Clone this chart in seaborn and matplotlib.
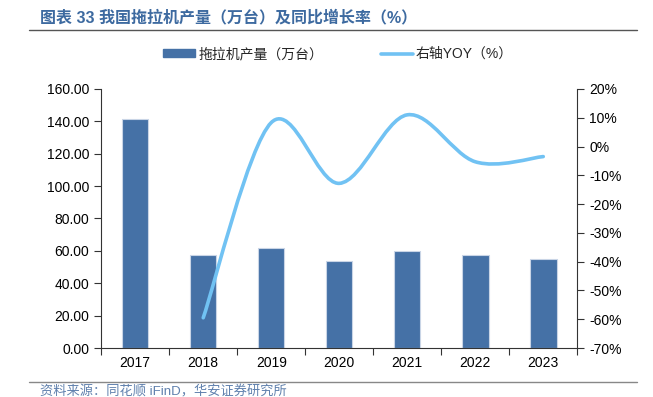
import numpy as np
import pandas as pd
import seaborn as sns
import matplotlib.pyplot as plt
from matplotlib.path import Path
from matplotlib.patches import PathPatch, Rectangle
from matplotlib.lines import Line2D
from matplotlib.ticker import FuncFormatter, MultipleLocator

years = ['2017', '2018', '2019', '2020', '2021', '2022', '2023']
output = [141.3, 57.4, 62.0, 53.9, 59.9, 57.2, 55.0]
yoy = [np.nan, -59.5, 8.3, -12.8, 11.0, -5.3, -3.5]

title = '图表 33 我国拖拉机产量（万台）及同比增长率（%）'
bar_label = '拖拉机产量（万台）'
line_label = '右轴YOY（%）'
source = '资料来源：同花顺 iFinD，华安证券研究所'

bar_color = '#4571a6'
line_color = '#71c2f3'
title_color = '#3d6aa0'

sns.set_theme(style='white')
plt.rcParams['font.family'] = ['Liberation Sans', 'Noto Sans CJK SC']
plt.rcParams['axes.unicode_minus'] = False


def smooth_path(xs, ys):
    """Bezier path through the points, like a smoothed office chart line."""
    pts = np.column_stack([xs, ys])
    verts = [pts[0]]
    codes = [Path.MOVETO]
    n = len(pts)
    for i in range(n - 1):
        p0 = pts[max(i - 1, 0)]
        p1 = pts[i]
        p2 = pts[i + 1]
        p3 = pts[min(i + 2, n - 1)]
        verts += [p1 + (p2 - p0) / 6, p2 - (p3 - p1) / 6, p2]
        codes += [Path.CURVE4] * 3
    return Path(verts, codes)


def main():
    df = pd.DataFrame({'year': years, 'output': output, 'yoy': yoy})

    fig = plt.figure(figsize=(6.53, 3.97), dpi=100)
    ax = fig.add_axes([0.155, 0.1234, 0.729, 0.6526])
    sns.barplot(data=df, x='year', y='output', color=bar_color,
                width=0.39, edgecolor='#c9d5e6', linewidth=0.8,
                saturation=1, ax=ax)
    ax.set_xlim(-0.5, 6.5)
    ax.set_ylim(0, 160)
    ax.yaxis.set_major_locator(MultipleLocator(20))
    ax.yaxis.set_major_formatter(FuncFormatter(lambda v, p: f'{v:.2f}'))
    ax.set_xlabel('')
    ax.set_ylabel('')
    ax.set_xticks(np.arange(-0.5, 7, 1), minor=True)
    ax.tick_params(axis='x', which='major', length=0, labelsize=10,
                   pad=6, colors='black')
    ax.tick_params(axis='x', which='minor', length=5, width=0.8,
                   direction='out', bottom=True, color='#333333')
    ax.tick_params(axis='y', length=5, width=0.8, direction='out',
                   left=True, labelsize=10, colors='black',
                   color='#333333')
    for side in ['top', 'right']:
        ax.spines[side].set_visible(False)
    for side in ['left', 'bottom']:
        ax.spines[side].set_color('#333333')
        ax.spines[side].set_linewidth(0.8)

    ax2 = ax.twinx()
    ax2.set_ylim(-70, 20)
    ax2.yaxis.set_major_locator(MultipleLocator(10))
    ax2.yaxis.set_major_formatter(FuncFormatter(lambda v, p: f'{v:.0f}%'))
    ax2.tick_params(axis='y', length=5, width=0.8, direction='out',
                    right=True, labelsize=10, colors='black',
                    color='#333333')
    for side in ['top', 'left', 'bottom']:
        ax2.spines[side].set_visible(False)
    ax2.spines['right'].set_color('#333333')
    ax2.spines['right'].set_linewidth(0.8)

    sub = df.dropna(subset=['yoy'])
    xs = sub.index.to_numpy(dtype=float)
    path = smooth_path(xs, sub['yoy'].to_numpy())
    ax2.add_patch(PathPatch(path, fill=False, edgecolor=line_color,
                            linewidth=2.6, capstyle='round'))

    handles = [Rectangle((0, 0), 1, 1, color=bar_color),
               Line2D([0], [0], color=line_color, linewidth=2.6)]
    fig.legend(handles, [bar_label, line_label], ncol=2,
               loc='center', bbox_to_anchor=(0.518, 0.864),
               frameon=False, fontsize=10, handlelength=2.3,
               handleheight=0.5, columnspacing=4.2, handletextpad=0.2)

    fig.text(0.061, 0.955, title, fontsize=11.5, fontweight='bold',
             color=title_color, va='center', ha='left')
    fig.add_artist(Line2D([0.044, 0.975], [0.924, 0.924],
                          color='#555555', linewidth=1.0))
    fig.add_artist(Line2D([0.044, 0.975], [0.0385, 0.0385],
                          color='#888888', linewidth=1.0))
    fig.text(0.061, 0.013, source, fontsize=9.5, color='#5f80ad',
             va='center', ha='left')

    fig.savefig('out.png', dpi=100)


if __name__ == '__main__':
    main()
